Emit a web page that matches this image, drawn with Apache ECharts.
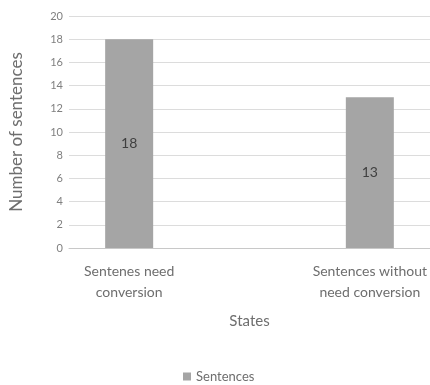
<!DOCTYPE html>
<html>
<head>
<meta charset="utf-8">
<script src="https://cdn.jsdelivr.net/npm/echarts@6/dist/echarts.min.js"></script>
<style>
  html, body { margin: 0; padding: 0; background: #ffffff; }
  #chart { width: 430px; height: 385px; }
</style>
</head>
<body>
<div id="chart"></div>
<script>
// Sentence counts by state
const categories = ['Sentenes need\nconversion', 'Sentences without\nneed conversion'];
const sentences = [18, 13];
const seriesName = 'Sentences';

// Each category sits at its index on the x scale
const barData = sentences.map((v, i) => [i, v]);
const categoryIndex = categories.map((_, i) => i);

const font = 'Lato, "Open Sans", sans-serif';
const textColor = '#6e6e6e';
const chart = echarts.init(document.getElementById('chart'), null, { renderer: 'canvas' });

chart.setOption({
  backgroundColor: '#ffffff',
  animation: false,
  textStyle: { fontFamily: font },
  grid: { left: 63, right: 0, top: 16, bottom: 137, containLabel: false },
  legend: {
    data: [seriesName],
    top: 365,
    left: 178,
    itemWidth: 8,
    itemHeight: 8,
    icon: 'rect',
    textStyle: { fontSize: 13, color: textColor, fontFamily: font }
  },
  xAxis: {
    type: 'value',
    min: -0.25,
    max: 1.25,
    name: 'States',
    nameLocation: 'middle',
    nameGap: 66,
    nameTextStyle: { fontSize: 15, color: textColor, fontFamily: font },
    axisLine: { show: true, lineStyle: { color: '#c8c8c8', width: 1 } },
    axisTick: { show: false },
    splitLine: { show: false },
    axisLabel: {
      customValues: categoryIndex,
      formatter: v => categories[Math.round(v)],
      fontSize: 14,
      color: textColor,
      lineHeight: 21,
      margin: 13,
      fontFamily: font
    }
  },
  yAxis: {
    type: 'value',
    min: 0,
    max: 20,
    interval: 2,
    name: 'Number of sentences',
    nameLocation: 'middle',
    nameGap: 44,
    nameTextStyle: { fontSize: 17, color: textColor, fontFamily: font },
    axisLine: { show: false },
    axisTick: { show: false },
    axisLabel: { fontSize: 11, color: '#808080', margin: 6, fontFamily: font },
    splitLine: { lineStyle: { color: '#dcdcdc', width: 1 } }
  },
  series: [{
    name: seriesName,
    type: 'bar',
    data: barData,
    barWidth: 48,
    itemStyle: { color: '#a5a5a5' },
    label: {
      show: true,
      position: 'inside',
      formatter: p => p.value[1],
      fontSize: 14,
      color: '#404040',
      fontFamily: font
    }
  }]
});
</script>
</body>
</html>
